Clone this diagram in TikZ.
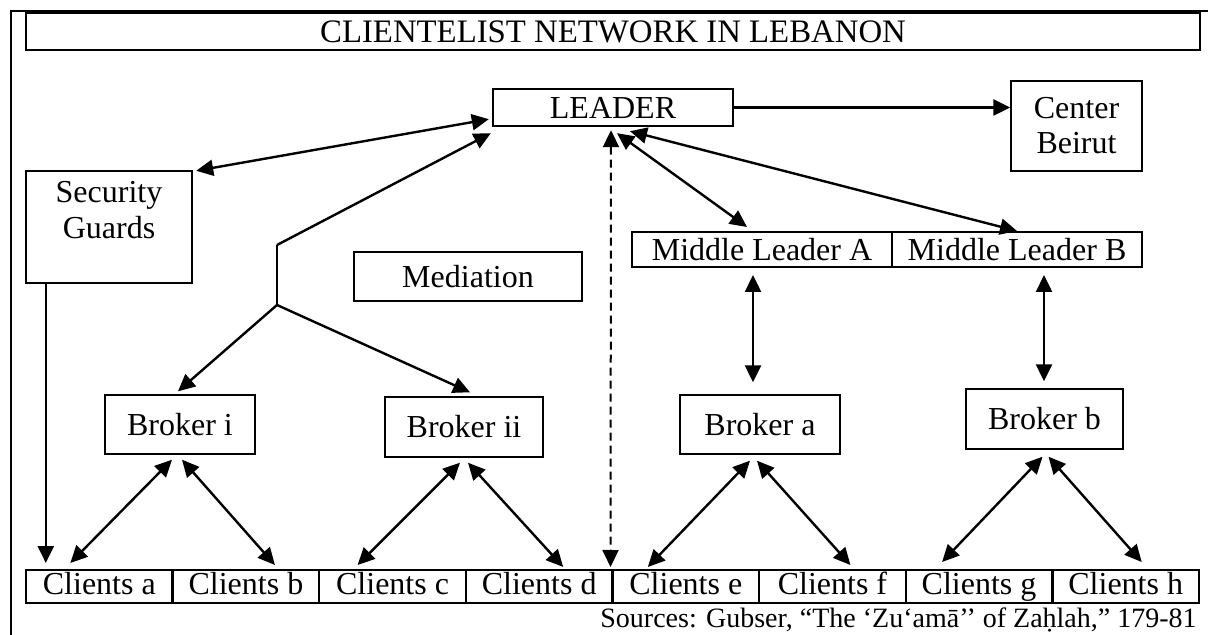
\documentclass[tikz,border=0pt]{standalone}
\usepackage{fontspec}
\setmainfont{Liberation Serif}
\usepackage{tikz}
\usetikzlibrary{arrows.meta, positioning}
\tikzstyle{box} = [draw, rectangle, inner sep=0pt, line width=0.7pt,
   align=center, font=\fontsize{16}{17.5}\selectfont]
\tikzstyle{thickbox} = [box, line width=1.2pt]
\tikzstyle{cell} = [thickbox, outer sep=0pt, minimum width=73.3125pt,
   minimum height=16.5pt, text height=11pt, text depth=3.5pt]
\tikzstyle{arr} = [line width=1.2pt, -{Triangle[length=8.5pt,width=8pt]}]
\tikzstyle{dbl} = [line width=1.2pt,
   {Triangle[length=8.5pt,width=8pt]}-{Triangle[length=8.5pt,width=8pt]}]

\begin{document}
\begin{tikzpicture}[
  x=0.5pt, y=-0.5pt,
  ]
  \useasboundingbox (0,0) rectangle (1208,635);
  \draw[line width=1.2pt] (11,635) -- (11,11) -- (1208,11);
  \node[thickbox, minimum width=587pt, minimum height=18.5pt,
    font=\fontsize{16.4}{18}\selectfont] (title) at (613,31.5)
    {CLIENTELIST NETWORK IN LEBANON};
  % top level
  \node[thickbox, minimum width=120pt, minimum height=18.5pt] (leader) at (613,107.5) {LEADER};
  \node[box, minimum width=65.5pt, minimum height=45pt] (beirut) at (1076.5,126) {Center\\Beirut};
  \node[thickbox, minimum width=83pt, minimum height=56pt,
    label={[anchor=north, inner sep=0pt, yshift=-5.5pt, align=center,
      font=\fontsize{16}{18}\selectfont]north:Security\\Guards}] (sg) at (109,227) {};
  \node[box, minimum width=114pt, minimum height=24.5pt] (med) at (468,276.5) {Mediation};
  \node[thickbox, outer sep=0pt, minimum width=130pt, minimum height=17.5pt] (mla) at (762,249.5) {Middle Leader A};
  \node[thickbox, outer sep=0pt, minimum width=125pt, minimum height=17.5pt, right=0pt of mla] (mlb) {Middle Leader B};
  % brokers
  \node[box, minimum width=75pt, minimum height=29.5pt] (bi) at (180,424.5) {Broker i};
  \node[box, minimum width=79pt, minimum height=30pt] (bii) at (464,427) {Broker ii};
  \node[box, minimum width=80pt, minimum height=29.5pt] (ba) at (760,424.5) {Broker a};
  \node[box, minimum width=78.5pt, minimum height=30pt] (bb) at (1044.5,419) {Broker b};
  % clients
  \node[cell, anchor=west] (ca) at (26,586.5) {Clients a};
  \node[cell, right=0pt of ca] (cb) {Clients b};
  \node[cell, right=0pt of cb] (cc) {Clients c};
  \node[cell, right=0pt of cc] (cd) {Clients d};
  \node[cell, right=0pt of cd] (ce) {Clients e};
  \node[cell, right=0pt of ce] (cf) {Clients f};
  \node[cell, right=0pt of cf] (cg) {Clients g};
  \node[cell, right=0pt of cg] (ch) {Clients h};
  \node[anchor=base east, inner sep=0pt, font=\fontsize{14}{16}\selectfont] (src) at (1197,627)
    {Sources: Gubser, “The ‘Zu‘amā’’ of Zaḥlah,” 179-81};
  % connectors
  \draw[arr] (leader) -- (leader -| beirut.west);
  \draw[dbl] ([shift={(-3,-8)}]leader.south west) -- ([shift={(3,1)}]sg.north east);
  \coordinate (kink) at (277,245);
  \coordinate (fork) at (277,305);
  \coordinate (sgfoot) at ([xshift=10.5pt]sg.south west);
  \draw[arr] (kink) -- ([shift={(-1,6)}]leader.south west);
  \draw[line width=0.6pt] (kink) -- (fork);
  \draw[arr] (fork) -- ([shift={(-2,-3)}]bi.north);
  \draw[arr] (fork) -- ([shift={(6,-4)}]bii.north);
  \draw[dbl, dash pattern=on 4pt off 2.5pt, line width=1pt]
    ([shift={(-2,3)}]leader.south) -- ([shift={(-2,-3)}]ce.north west);
  \draw[dbl] ([shift={(4,6)}]leader.south) -- ([shift={(-15,-5)}]mla.north);
  \draw[dbl] ([shift={(17,4)}]leader.south) -- ([shift={(0,-1)}]mlb.north);
  \draw[dbl] ([shift={(-9,8)}]mla.south) -- ([shift={(-7,-12)}]ba.north);
  \draw[dbl] ([shift={(27,8)}]mlb.south) -- ([shift={(-0.5,-7)}]bb.north);
  \draw[arr, shorten >=3.5pt] (sgfoot) -- (sgfoot |- ca.north);
  \draw[dbl] ([shift={(-8,5)}]bi.south) -- ([shift={(-29,-7)}]ca.north);
  \draw[dbl] ([shift={(2,5)}]bi.south) -- ([shift={(29,-5)}]cb.north);
  \draw[dbl] ([shift={(-4,5)}]bii.south) -- ([shift={(-35,-5)}]cc.north);
  \draw[dbl] ([shift={(4,5)}]bii.south) -- ([shift={(24,-3)}]cd.north);
  \draw[dbl] ([shift={(-10,6)}]ba.south) -- ([shift={(-38,-3)}]ce.north);
  \draw[dbl] ([shift={(-3,6)}]ba.south) -- ([shift={(18,-5)}]cf.north);
  \draw[dbl] ([shift={(-2,7)}]bb.south) -- ([shift={(-37,-8)}]cg.north);
  \draw[dbl] ([shift={(4,7)}]bb.south) -- ([shift={(16,-8)}]ch.north);
\end{tikzpicture}
\end{document}
